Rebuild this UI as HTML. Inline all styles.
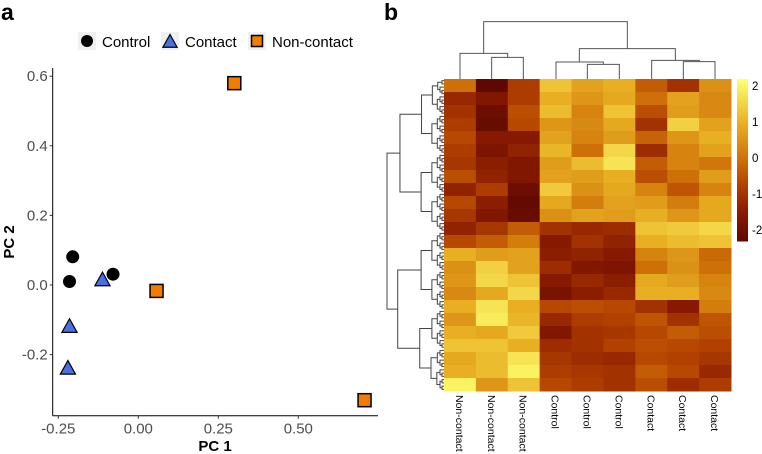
<!DOCTYPE html>
<html><head><meta charset="utf-8"><style>
html,body{margin:0;padding:0;background:#fff;width:762px;height:454px;overflow:hidden}
svg{display:block;font-family:"Liberation Sans",Arial,sans-serif}
</style></head><body>
<svg id="fig" width="762" height="454" viewBox="0 0 762 454">
<text x="1" y="20" font-size="23" font-weight="bold">a</text>
<text x="384" y="20" font-size="23" font-weight="bold">b</text>
<g id="scatter"></g>
<g id="heat"></g>
</svg>
<script>
const NS="http://www.w3.org/2000/svg";
function mk(tag,attrs,parent,txt){const e=document.createElementNS(NS,tag);for(const k in attrs)e.setAttribute(k,attrs[k]);if(txt!==undefined)e.textContent=txt;parent.appendChild(e);return e;}

// ---------- PCA data ----------
const groups=["Control","Contact","Non-contact"];
const controlX=[-0.205,-0.215,-0.079];
const controlY=[0.081,0.010,0.031];
const contactX=[-0.112,-0.215,-0.220];
const contactY=[0.014,-0.120,-0.240];
const noncontactX=[0.300,0.057,0.707];
const noncontactY=[0.580,-0.017,-0.331];
const xTicks=[-0.25,0,0.25,0.5];
const xTickLabels=["-0.25","0.00","0.25","0.50"];
const yTicks=[-0.2,0,0.2,0.4,0.6];
const yTickLabels=["-0.2","0.0","0.2","0.4","0.6"];

// ---------- Heatmap data ----------
const sampleLabels=["Non-contact","Non-contact","Non-contact","Control","Control","Control","Contact","Contact","Contact"];
const heatValues=[
[0,-2.3,-0.8,1.3,0.8,1.0,-0.3,-1,0.5],
[-1.2,-1.6,-0.8,1.0,0.6,0.9,0,0.8,0.4],
[-1,-2,-0.5,1.2,0.3,1.3,-0.5,0.7,0.4],
[-0.8,-2.1,-0.6,0.6,0.4,0.9,-1,1.5,0.8],
[-0.6,-1.5,-1.5,0.8,0.3,0.7,-0.2,0.6,1.0],
[-0.8,-1.7,-1.3,1.1,0,1.6,-1.1,0.3,0.8],
[-0.9,-1.4,-1.6,0.7,1.2,1.8,-0.3,0.3,0.1],
[-0.5,-1.3,-1.6,0.8,0.7,1.0,-0.5,0.0,0.7],
[-1.3,-0.8,-2,1.4,0.5,0.9,0.3,-0.4,0.3],
[-0.6,-1.4,-2.2,0.9,0.2,0.8,0.7,0.2,0.9],
[-0.9,-1.6,-2.1,0.5,0.8,0.7,1.0,0.6,0.9],
[-1.3,-0.9,-0.3,-1.0,-1.2,-1.1,1.3,1.4,1.6],
[-0.6,-0.3,0.2,-1.5,-1.0,-1.3,1.0,1.2,1.3],
[1.0,0.7,0.8,-1.4,-1.3,-1.5,0.3,0.6,-0.1],
[0.5,1.5,0.8,-1.1,-1.6,-1.7,0.0,0.5,0.0],
[0.6,1.6,1.3,-1.5,-1.2,-1.4,0.9,0.7,0.3],
[0.4,0.9,1.6,-1.8,-1.4,-1.2,1.0,1.0,0.4],
[1.0,1.8,1.0,-0.6,-0.5,-0.6,-1.0,-1.5,0.2],
[0.6,1.9,1.1,-1.2,-0.8,-0.7,-0.4,-1.0,-0.4],
[1.0,0.9,1.4,-1.6,-1.0,-0.9,-0.6,-0.3,-0.5],
[1.3,1.3,1.0,-1.1,-1.0,-0.7,-0.5,-0.6,-0.7],
[0.9,1.2,1.8,-0.9,-1.1,-1.2,-0.6,-0.7,-0.9],
[1.0,1.2,2.0,-0.8,-0.9,-1.0,-0.3,-0.6,-1.2],
[2.0,0.6,1.3,-0.6,-0.8,-1.0,-0.5,-1.1,-0.8]];
const colorbarTicks=[2,1,0,-1,-2];

// ---------- Scatter ----------
const sc=document.getElementById('scatter');
const X0=52.7,X1=378,Ybot=415.7;
const xs=v=>138.3+320*v, ys=v=>285-348*v;
mk('line',{x1:X0,y1:68,x2:X0,y2:Ybot,stroke:'#000','stroke-width':1},sc);
mk('line',{x1:X0,y1:Ybot,x2:X1,y2:Ybot,stroke:'#000','stroke-width':1},sc);
xTicks.forEach((t,i)=>{
  const l=mk('line',{x1:xs(t),y1:Ybot,x2:xs(t),y2:Ybot+3,stroke:'#333'},sc);
  
  const tx=mk('text',{x:xs(t),y:Ybot+18,'font-size':15,fill:'#4d4d4d','text-anchor':'middle'},sc,xTickLabels[i]);
  
});
yTicks.forEach((t,i)=>{
  const l=mk('line',{x1:X0-3,y1:ys(t),x2:X0,y2:ys(t),stroke:'#333'},sc);
  
  const tx=mk('text',{x:X0-5,y:ys(t)+5,'font-size':15,fill:'#4d4d4d','text-anchor':'end'},sc,yTickLabels[i]);
  
});
const xt=mk('text',{x:215,y:451,'font-size':15,'font-weight':'bold','text-anchor':'middle'},sc,'PC 1');

const yt=mk('text',{x:0,y:0,'font-size':15,'font-weight':'bold','text-anchor':'middle',transform:'translate(14,242) rotate(-90)'},sc,'PC 2');


function circle(cx,cy,p,r){return mk('circle',{cx,cy,r:r||6.5,fill:'#000'},p);}
function tri(cx,cy,p,s){s=s||8;return mk('polygon',{points:`${cx},${cy-s} ${cx-s*0.95},${cy+s*0.7} ${cx+s*0.95},${cy+s*0.7}`,fill:'#4a6fe3',stroke:'#000','stroke-width':1.2},p);}
function sq(cx,cy,p,s){s=s||6.5;return mk('rect',{x:cx-s,y:cy-s,width:2*s,height:2*s,fill:'#f07c00',stroke:'#000','stroke-width':1.5},p);}
controlX.forEach((v,i)=>{const e=circle(xs(v),ys(controlY[i]),sc);});
contactX.forEach((v,i)=>{const e=tri(xs(v),ys(contactY[i]),sc);});
noncontactX.forEach((v,i)=>{const e=sq(xs(v),ys(noncontactY[i]),sc);});

// legend
const lg=mk('g',{},sc);


const legX=[87,170,257];
groups.forEach((g,i)=>{
  const bg=mk('rect',{x:legX[i]-9,y:32,width:18,height:18,fill:'#f0f0f0'},lg);
  
  let m;
  if(i===0)m=circle(legX[i],41,lg,6);else if(i===1)m=tri(legX[i],42,lg,7.5);else m=sq(legX[i],41,lg,5.5);
  
  const t=mk('text',{x:legX[i]+15,y:47,'font-size':15,fill:'#000'},lg,g);
  
});

// ---------- Heatmap ----------
const hm=document.getElementById('heat');
const HX0=444,HX1=731,HY0=79,HY1=391;
const nC=sampleLabels.length,nR=heatValues.length;
const cw=(HX1-HX0)/nC,rh=(HY1-HY0)/nR;
const stops=[[-2.3,[95,8,0]],[-1.5,[135,25,0]],[-0.7,[178,65,0]],[0,[206,112,8]],[1,[232,175,35]],[2.2,[255,255,110]]];
function col(v){
  if(v<=stops[0][0])return `rgb(${stops[0][1]})`;
  for(let i=1;i<stops.length;i++){if(v<=stops[i][0]){const a=stops[i-1],b=stops[i];const t=(v-a[0])/(b[0]-a[0]);const c=a[1].map((x,k)=>Math.round(x+(b[1][k]-x)*t));return `rgb(${c})`;}}
  return `rgb(${stops[stops.length-1][1]})`;
}
heatValues.forEach((row,r)=>row.forEach((v,c)=>{
  const e=mk('rect',{x:HX0+c*cw,y:HY0+r*rh,width:cw+0.5,height:rh+0.5,fill:col(v)},hm);
  
  
}));
sampleLabels.forEach((s,c)=>{
  const cx=HX0+(c+0.5)*cw;
  const t=mk('text',{x:0,y:0,'font-size':10.5,fill:'#000',transform:`translate(${cx-4},395) rotate(90)`},hm,s);
  
});
// colorbar
const cb=mk('g',{},hm);


const cbTop=79,cbBot=241,cbMax=2.2,cbMin=-2.3;
const cby=v=>cbTop+(cbMax-v)/(cbMax-cbMin)*(cbBot-cbTop);
for(let i=0;i<60;i++){const v=cbMax-(cbMax-cbMin)*i/60;mk('rect',{x:737,y:cbTop+i*(cbBot-cbTop)/60,width:11,height:(cbBot-cbTop)/60+0.5,fill:col(v)},cb);}
colorbarTicks.forEach(t=>{
  const e=mk('text',{x:752,y:cby(t)+4,'font-size':11.5,fill:'#000'},cb,String(t));
  
});
// column dendrogram
const cd=mk('g',{stroke:'#555',fill:'none','stroke-width':1},hm);

const zx=v=>380+v/3, zy=v=>v/3;
function link(xl,yb,yt,xr,ybr){mk('path',{d:`M${zx(xl)},${zy(yb)}V${zy(yt)}H${zx(xr)}V${zy(ybr)}`},cd);}
link(240,237,160,383,172);link(335,237,172,430,237);
link(528,237,186,670,193);link(622,237,193,718,237);
link(815,237,181,958,185);link(910,237,185,1005,237);
link(598,186,146,886,181);link(311,160,65,742,146);
// row dendrogram (structural, decorative)
const rd=mk('g',{stroke:'#444',fill:'none','stroke-width':1},hm);

const nLeaves=96,lh=(HY1-HY0)/nLeaves;
function tree(a,b,depth){
  if(b-a===1)return {y:HY0+(a+0.5)*lh,x:HX0};
  let m=Math.floor((a+b)/2);
  if(depth===0)m=Math.round(nLeaves*0.49);
  const L=tree(a,m,depth+1),R=tree(m,b,depth+1);
  const x=Math.min(L.x,R.x)-Math.max(2,(b-a)*0.45);
  const xx=depth===0?387:x;
  mk('path',{d:`M${L.x},${L.y}H${xx}V${R.y}H${R.x}`},rd);
  return {y:(L.y+R.y)/2,x:xx};
}
tree(0,nLeaves,0);
</script>
</body></html>
